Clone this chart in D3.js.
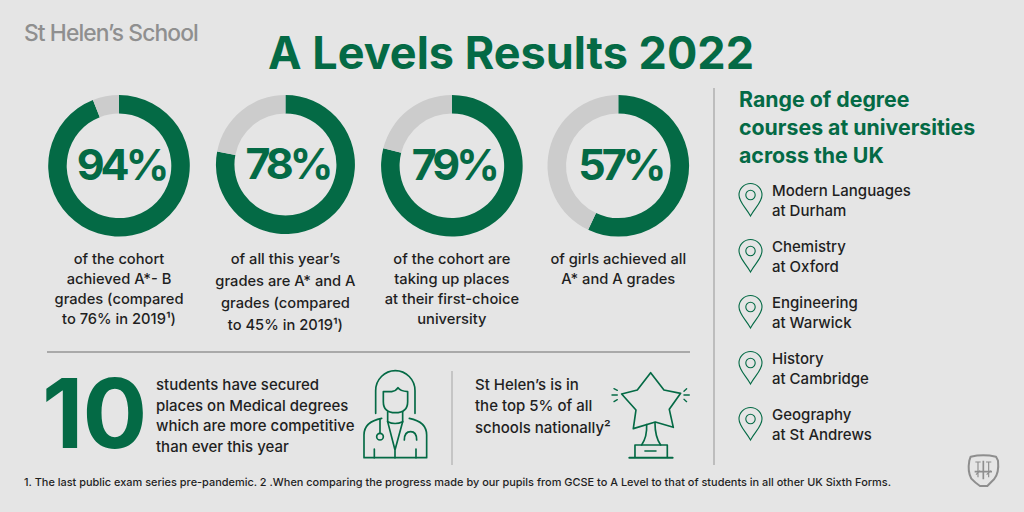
<!DOCTYPE html>
<html>
<head>
<meta charset="utf-8">
<script src="https://cdn.jsdelivr.net/npm/d3@7"></script>
<style>
  html, body { margin: 0; padding: 0; background: #e5e5e5; }
  text { font-family: Inter, "Noto Sans", sans-serif; }
</style>
</head>
<body>
<svg id="chart" width="1024" height="512"></svg>
<script>
// values
var percents = [94, 78, 79, 57];
var captions = [
  ["of the cohort", "achieved A*- B", "grades (compared", "to 76% in 2019¹)"],
  ["of all this year’s", "grades are A* and A", "grades (compared", "to 45% in 2019¹)"],
  ["of the cohort are", "taking up places", "at their first-choice", "university"],
  ["of girls achieved all", "A* and A grades"]
];
var courses = [
  ["Modern Languages", "at Durham"],
  ["Chemistry", "at Oxford"],
  ["Engineering", "at Warwick"],
  ["History", "at Cambridge"],
  ["Geography", "at St Andrews"]
];
var headingLines = ["Range of degree", "courses at universities", "across the UK"];
var medicalLines = ["students have secured", "places on Medical degrees", "which are more competitive", "than ever this year"];
var topLines = ["St Helen’s is in", "the top 5% of all", "schools nationally²"];
var footnote = "1. The last public exam series pre-pandemic. 2 .When comparing the progress made by our pupils from GCSE to A Level to that of students in all other UK Sixth Forms.";

var green = "#046a45", grey = "#cccccc", ink = "#1f1f1f";

var svg = d3.select("#chart");
svg.append("rect").attr("width", 1024).attr("height", 512).attr("fill", "#e5e5e5");

// header
svg.append("text").attr("x", 24).attr("y", 41).text("St Helen’s School")
  .attr("font-size", 22.8).attr("font-weight", 500).attr("letter-spacing", -0.9).attr("fill", "#8f8f8f");
svg.append("text").attr("x", 511).attr("y", 69).attr("text-anchor", "middle").text("A Levels Results 2022")
  .attr("font-size", 45).attr("font-weight", 700).attr("fill", green);

// donuts (the second one is a little smaller in the picture)
var xDonut = d3.scalePoint().domain(d3.range(percents.length)).range([119, 618.3]);
var pie = d3.pie().sort(null);
var donutR = function(i) { return i == 1 ? 69.5 : 70.8; };
var donutY = function(i) { return i == 1 ? 164.5 : 165.8; };

var donut = svg.selectAll("g.donut").data(percents).join("g")
  .attr("class", "donut")
  .attr("transform", function(d, i) { return "translate(" + xDonut(i) + "," + donutY(i) + ")"; });

donut.each(function(d, i) {
  var arc = d3.arc().innerRadius(donutR(i) - 18.5).outerRadius(donutR(i));
  d3.select(this).selectAll("path").data(pie([d, 100 - d])).join("path")
    .attr("d", arc)
    .attr("fill", function(s, j) { return j == 0 ? green : grey; });
});

donut.append("text").attr("text-anchor", "middle").attr("x", 2).attr("y", 14)
  .attr("font-size", 43).attr("font-weight", 700).attr("letter-spacing", -4).attr("fill", green)
  .text(function(d) { return d + "%"; });

// captions under the donuts
captions.forEach(function(cap, i) {
  svg.append("g").selectAll("text").data(cap).join("text")
    .attr("text-anchor", "middle")
    .attr("x", xDonut(i))
    .attr("y", function(c, j) { return 264 + j * (i == 1 ? 22 : 20); })
    .attr("font-size", 14.7).attr("font-weight", 500).attr("fill", ink)
    .text(function(c) { return c; });
});

// dividers
function rule(x1, y1, x2, y2, color) {
  svg.append("line").attr("x1", x1).attr("y1", y1).attr("x2", x2).attr("y2", y2)
    .attr("stroke", color).attr("stroke-width", 1.3);
}
rule(47, 352, 690, 352, "#959595");
rule(714, 88, 714, 465, "#a8a8a8");
rule(452, 371, 452, 465, "#b4b4b4");

// bottom row
svg.append("text").attr("x", 42).attr("y", 448).text("10")
  .attr("font-size", 96).attr("font-weight", 700).attr("letter-spacing", -1).attr("fill", green);

function lines(arr, x, y0, step, size, weight, color) {
  svg.append("g").selectAll("text").data(arr).join("text")
    .attr("x", x)
    .attr("y", function(d, i) { return y0 + i * step; })
    .attr("font-size", size).attr("font-weight", weight).attr("fill", color)
    .text(function(d) { return d; });
}
lines(medicalLines, 156, 390, 20.7, 15, 500, ink);
lines(topLines, 475, 390, 21.3, 15, 500, ink);

// right column
lines(headingLines, 739, 107, 28, 21.3, 700, green);
courses.forEach(function(c, i) {
  lines(c, 772, 196 + i * 56, 20, 15, 500, ink);
});

// pins
var pin = svg.selectAll("g.pin").data(courses).join("g")
  .attr("class", "pin")
  .attr("transform", function(d, i) { return "translate(750.5," + (195 + i * 56) + ")"; })
  .attr("fill", "none").attr("stroke", green).attr("stroke-width", 1.1);
pin.append("path").attr("d", "M0,21 C-5,12 -11.5,7 -11.5,0 A11.5,11.5 0 1 1 11.5,0 C11.5,7 5,12 0,21 Z");
pin.append("circle").attr("r", 4.7);

// doctor icon, drawn in zoomed units
var doc = svg.append("g").attr("transform", "translate(340,350) scale(0.3333)")
  .attr("fill", "none").attr("stroke", green).attr("stroke-width", 5)
  .attr("stroke-linecap", "round").attr("stroke-linejoin", "round");
doc.append("path").attr("d", "M107,190 L107,122 A59,60 0 0 1 225,122 L225,190");
doc.append("path").attr("d", "M130,125 L155,125 Q168,123 174,113 Q180,123 203,125 L203,155 Q203,188 166,188 Q130,188 130,155 Z");
doc.append("path").attr("d", "M143,186 L143,215 Q165,226 188,215 L188,186");
doc.append("path").attr("d", "M72,323 L72,255 Q72,215 125,205 M260,323 L260,255 Q260,215 208,205 M72,323 L260,323");
doc.append("path").attr("d", "M143,215 L165,300 L188,215 M165,300 L165,323");
doc.append("path").attr("d", "M120,207 L120,250 M193,270 Q193,245 212,245 Q230,245 230,270");
doc.append("circle").attr("cx", 120).attr("cy", 260).attr("r", 10);
doc.append("path").attr("d", "M103,297 L103,323 M228,297 L228,323");

// star trophy icon
var star = svg.append("g").attr("transform", "translate(340,350) scale(0.3333)")
  .attr("fill", "none").attr("stroke", green).attr("stroke-width", 5)
  .attr("stroke-linecap", "round").attr("stroke-linejoin", "round");
star.append("path").attr("d", "M932,68 L972,120 L1022,130 L988,178 L1000,232 L946,216 L880,236 L888,180 L845,132 L892,120 Z");
star.append("path").attr("d", "M920,224 Q922,260 905,285 M945,218 Q945,260 962,285");
star.append("path").attr("d", "M885,322 L885,285 L982,285 L982,322 M915,303 L948,303");
star.append("path").attr("d", "M868,323 L998,323").attr("stroke-width", 6);
star.append("path").attr("d", "M822,116 L832,121 M816,135 L832,135 M822,155 L832,149 M1040,116 L1032,124 M1048,135 L1032,135 M1040,155 L1032,148").attr("stroke-width", 4);

// crest
var crest = svg.append("g").attr("transform", "translate(900,440) scale(0.3333)")
  .attr("fill", "none").attr("stroke", "#8e8e8e").attr("stroke-width", 6).attr("stroke-linejoin", "round");
crest.append("path").attr("d", "M212,50 Q250,42 288,50 L294,62 Q298,100 282,118 Q270,130 262,138 L240,138 Q225,128 214,116 Q202,95 208,62 Z");
crest.append("path").attr("d", "M250,62 L250,118 M224,95 L276,95").attr("stroke-width", 5);
crest.append("path").attr("d", "M226,66 L242,66 M234,66 L234,112 M258,66 L274,66 M266,66 L266,112 M228,104 L240,92 M260,104 L272,92").attr("stroke-width", 3.5);

// footnote
svg.append("text").attr("x", 24).attr("y", 486).text(footnote)
  .attr("font-size", 10.95).attr("font-weight", 500).attr("fill", ink);
</script>
</body>
</html>
